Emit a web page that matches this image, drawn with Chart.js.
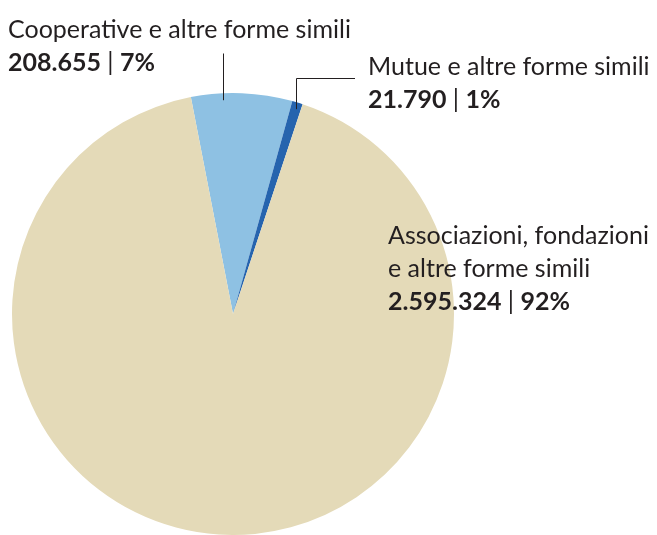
<!DOCTYPE html>
<html lang="it">
  <head>
    <meta charset="UTF-8" />
    <title>Enti non profit per forma giuridica</title>
    <style>
      * {
        margin: 0;
        padding: 0;
      }
      body {
        background: #fff;
        overflow: hidden;
      }
      .chartBox {
        width: 657px;
        height: 535px;
      }
    </style>
  </head>
  <body>
    <div class="chartBox">
      <canvas id="myChart" width="657" height="535"></canvas>
    </div>

    <script src="https://cdn.jsdelivr.net/npm/chart.js"></script>

    <script>
      // data block
      const categories = [
        ["Cooperative e altre forme simili"],
        ["Mutue e altre forme simili"],
        ["Associazioni, fondazioni", "e altre forme simili"]
      ];
      const values = [208655, 21790, 2595324];
      const colors = ["#8ec1e3", "#2664ae", "#e4dab8"];

      // where each label sits (first baseline) and its leader line
      const labelLayout = [
        { x: 8, y: 38, leaderX: 223, leaderTop: 53 },
        { x: 368, y: 75, leaderX: 296, leaderTop: 78, leaderToX: 355 },
        { x: 388, y: 244 }
      ];

      const FONT = "Lato";
      const FONT_SIZE = 25;
      const LINE_HEIGHT = 33;
      const TEXT_COLOR = "#231f20";

      const fmt = (v) => String(v).replace(/\B(?=(\d{3})+(?!\d))/g, ".");

      const sliceLabels = {
        id: "sliceLabels",
        afterDraw(chart) {
          const { ctx } = chart;
          const arc = chart.getDatasetMeta(0).data[0];
          const { x: cx, y: cy, outerRadius: r } = arc.getProps(["x", "y", "outerRadius"], true);
          const total = values.reduce((a, b) => a + b, 0);

          ctx.save();
          ctx.fillStyle = TEXT_COLOR;
          ctx.strokeStyle = TEXT_COLOR;
          ctx.lineWidth = 1;
          ctx.textBaseline = "alphabetic";
          ctx.textAlign = "left";

          labelLayout.forEach((l, i) => {
            // leader line from the rim of the pie up to the label
            if (l.leaderX !== undefined) {
              const dx = l.leaderX - cx;
              const edgeY = cy - Math.sqrt(r * r - dx * dx);
              const lx = Math.round(l.leaderX) + 0.5;
              const ty = Math.round(l.leaderTop) + 0.5;
              ctx.beginPath();
              ctx.moveTo(lx, edgeY + 7);
              ctx.lineTo(lx, ty);
              if (l.leaderToX !== undefined) ctx.lineTo(l.leaderToX, ty);
              ctx.stroke();
            }

            // name lines
            let y = l.y;
            ctx.font = `${FONT_SIZE}px ${FONT}`;
            categories[i].forEach((line) => {
              ctx.fillText(line, l.x, y);
              y += LINE_HEIGHT;
            });

            // value | percent
            const parts = [
              { t: fmt(values[i]), bold: true },
              { t: " | ", bold: false },
              { t: Math.round((values[i] / total) * 100) + "%", bold: true }
            ];
            let x = l.x;
            parts.forEach((p) => {
              ctx.font = `${p.bold ? "bold " : ""}${FONT_SIZE}px ${FONT}`;
              ctx.fillText(p.t, x, y);
              x += ctx.measureText(p.t).width;
            });
          });
          ctx.restore();
        }
      };

      // config block
      const config = {
        type: "pie",
        data: {
          labels: categories.map((c) => c.join(" ")),
          datasets: [
            {
              data: values,
              backgroundColor: colors,
              borderWidth: 0,
              offset: 0,
              hoverOffset: 0
            }
          ]
        },
        options: {
          responsive: false,
          animation: false,
          events: [],
          rotation: -11,
          layout: {
            padding: { left: 12, right: 203, top: 93, bottom: 0 }
          },
          plugins: {
            legend: { display: false },
            tooltip: { enabled: false }
          }
        },
        plugins: [sliceLabels]
      };

      // init render block
      const myChart = new Chart(document.getElementById("myChart"), config);
    </script>
  </body>
</html>
